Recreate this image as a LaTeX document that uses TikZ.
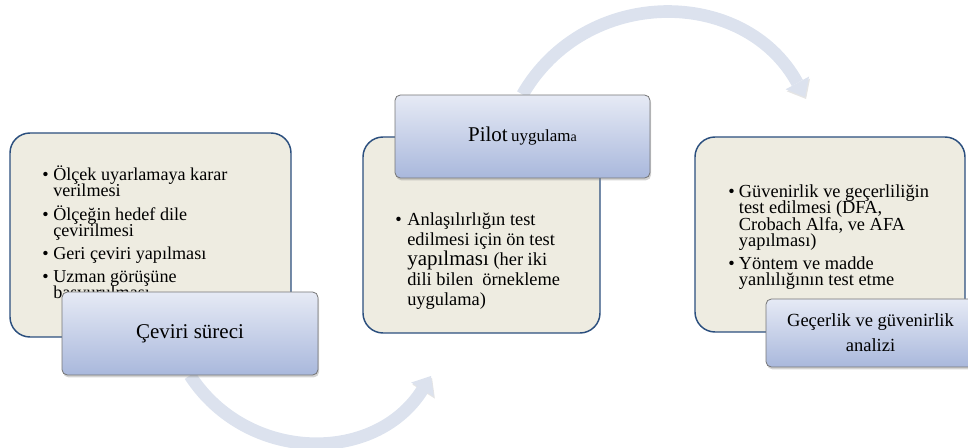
\documentclass[tikz,border=0pt]{standalone}
\usepackage{fontspec}
\setmainfont{Liberation Serif}
\usetikzlibrary{arrows.meta, shadows, backgrounds}
\definecolor{panelfill}{HTML}{EEECE1}
\definecolor{panelline}{HTML}{2B4F7E}
\definecolor{tabtop}{HTML}{E6EAF5}
\definecolor{tabbottom}{HTML}{A9B8DC}
\definecolor{tabline}{HTML}{767676}
\definecolor{flowcol}{HTML}{DCE2EE}

\newcommand{\bulletmark}[1]{\makebox[#1][l]{\textbullet}}
\newcommand{\hangspace}[1]{\hspace*{#1}}
\lineskiplimit=-20pt

\begin{document}
\begin{tikzpicture}[x=0.75pt, y=0.75pt,
    panel/.style={rectangle, rounded corners=15pt, draw=panelline, line width=1.1pt, fill=panelfill},
    tab/.style={rectangle, rounded corners=4pt, draw=tabline, line width=0.6pt, top color=tabtop, bottom color=tabbottom, drop shadow={shadow xshift=0.8pt, shadow yshift=-1.8pt, opacity=0.35}, align=center},
    items/.style={anchor=base west, inner sep=0pt, align=left},
    flow/.style={-{Triangle[width=20pt, length=12pt, line width=0pt]}, line width=9.5pt, color=flowcol, preaction={draw=black!10, transform canvas={shift={(0.8pt,-1.5pt)}}}}
]
\useasboundingbox (0,0) rectangle (968,448);

% Step 1 (base anchor sits on the last line)
\node[panel, minimum width=210.75pt, minimum height=153pt] (panel1) at (150.5,213) {};
\node[items, font=\fontsize{13.6}{12.3}\selectfont] (list1) at (42,149) {%
\bulletmark{8.25pt}Ölçek uyarlamaya karar\\
\hangspace{8.25pt}verilmesi\\[5pt]
\bulletmark{8.25pt}Ölçeğin hedef dile\\
\hangspace{8.25pt}çevirilmesi\\[5pt]
\bulletmark{8.25pt}Geri çeviri yapılması\\[5pt]
\bulletmark{8.25pt}Uzman görüşüne\\
\hangspace{8.25pt}başvurulması};
\node[tab, minimum width=192pt, minimum height=62.25pt, font=\fontsize{15.75}{18}\selectfont] (lbl1) at (190,114.5) {Çeviri süreci};

% Step 2
\node[panel, minimum width=177.75pt, minimum height=147pt] (panel2) at (481.5,213) {};
\node[items, font=\fontsize{13.8}{15}\selectfont] (list2) at (395,142) {%
\bulletmark{9pt}Anlaşılırlığın test\\
\hangspace{9pt}edilmesi için ön test\\
\hangspace{9pt}{\fontsize{15.75}{15}\selectfont yapılması} (her iki\\
\hangspace{9pt}dili bilen \ örnekleme\\
\hangspace{9pt}uygulama)};
\node[tab, minimum width=191.25pt, minimum height=62.25pt] (lbl2) at (522.5,311.5) {{\fontsize{15.75}{18}\selectfont Pilot} {\fontsize{12.75}{15}\selectfont uygulam}{\fontsize{10.5}{12}\selectfont a}};

% Step 3
\node[panel, minimum width=202.5pt, minimum height=146.25pt] (panel3) at (830,213.5) {};
\node[items, font=\fontsize{13.8}{12.3}\selectfont] (list3) at (728,162) {%
\bulletmark{8pt}Güvenirlik ve geçerliliğin\\
\hangspace{8pt}test edilmesi (DFA,\\
\hangspace{8pt}Crobach Alfa, ve AFA\\
\hangspace{8pt}yapılması)\\[5pt]
\bulletmark{8pt}Yöntem ve madde\\
\hangspace{8pt}yanlılığının test etme};
\node[tab, minimum width=156.75pt, minimum height=51pt, font=\fontsize{13.9}{18.75}\selectfont] (lbl3) at (870.5,115) {Geçerlik ve güvenirlik\\analizi};

% Flow arrows
\coordinate (tip1) at (431,72);
\coordinate (tip2) at (805,351);
\begin{scope}[on background layer]
\draw[flow] (lbl1.south) to[out=-57, in=238, looseness=1.11] (tip1);
\draw[flow] (lbl2.north) to[out=60, in=118.6, looseness=1.14] (tip2);
\end{scope}

\end{tikzpicture}
\end{document}
